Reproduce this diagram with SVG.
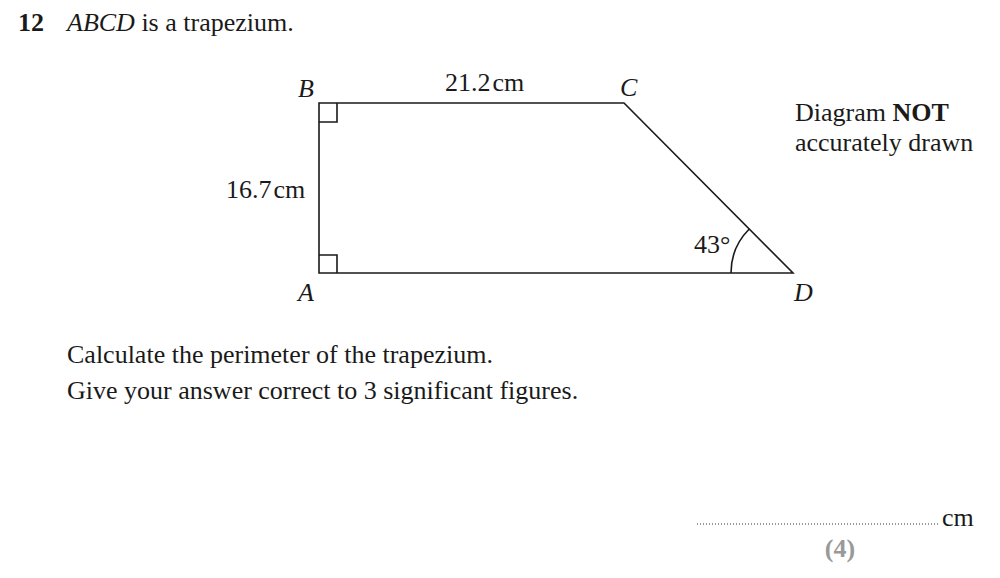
<svg xmlns="http://www.w3.org/2000/svg" width="1000" height="578" viewBox="0 0 1000 578">
<style>
text{font-family:"Liberation Serif","Times New Roman",serif;font-size:26px;fill:#1a1a1a}
.i{font-style:italic}
.b{font-weight:bold}
.ln{fill:none;stroke:#1a1a1a;stroke-width:1.6}
</style>
<rect width="1000" height="578" fill="#fff"/>
<text x="18" y="31" class="b">12</text>
<text x="67" y="31"><tspan class="i">ABCD</tspan> is a trapezium.</text>
<g id="shape">
<polygon class="ln" points="319,103 624,103 793,273 319,273"/>
<polyline class="ln" points="319,122 337,122 337,103"/>
<polyline class="ln" points="319,255 337,255 337,273"/>
<path class="ln" d="M731,273 A62,62 0 0 1 749.3,229"/>
</g>
<g id="labels">
<text x="298" y="97" class="i">B</text>
<text x="445" y="91">21.2<tspan dx="2">cm</tspan></text>
<text x="620" y="96" class="i">C</text>
<text x="226" y="198">16.7<tspan dx="2">cm</tspan></text>
<text x="694" y="253">43°</text>
<text x="298" y="301" class="i">A</text>
<text x="794" y="301" class="i">D</text>
<text x="795" y="121">Diagram <tspan class="b">NOT</tspan></text>
<text x="795" y="151">accurately drawn</text>
</g>
<text x="67" y="363">Calculate the perimeter of the trapezium.</text>
<text x="67" y="399">Give your answer correct to 3 significant figures.</text>
<line x1="697" y1="524" x2="940" y2="524" stroke="#333" stroke-width="1" stroke-dasharray="1,2"/>
<text x="942" y="526">cm</text>
<text x="840" y="557" text-anchor="middle" class="b" style="fill:#999">(4)</text>
</svg>
